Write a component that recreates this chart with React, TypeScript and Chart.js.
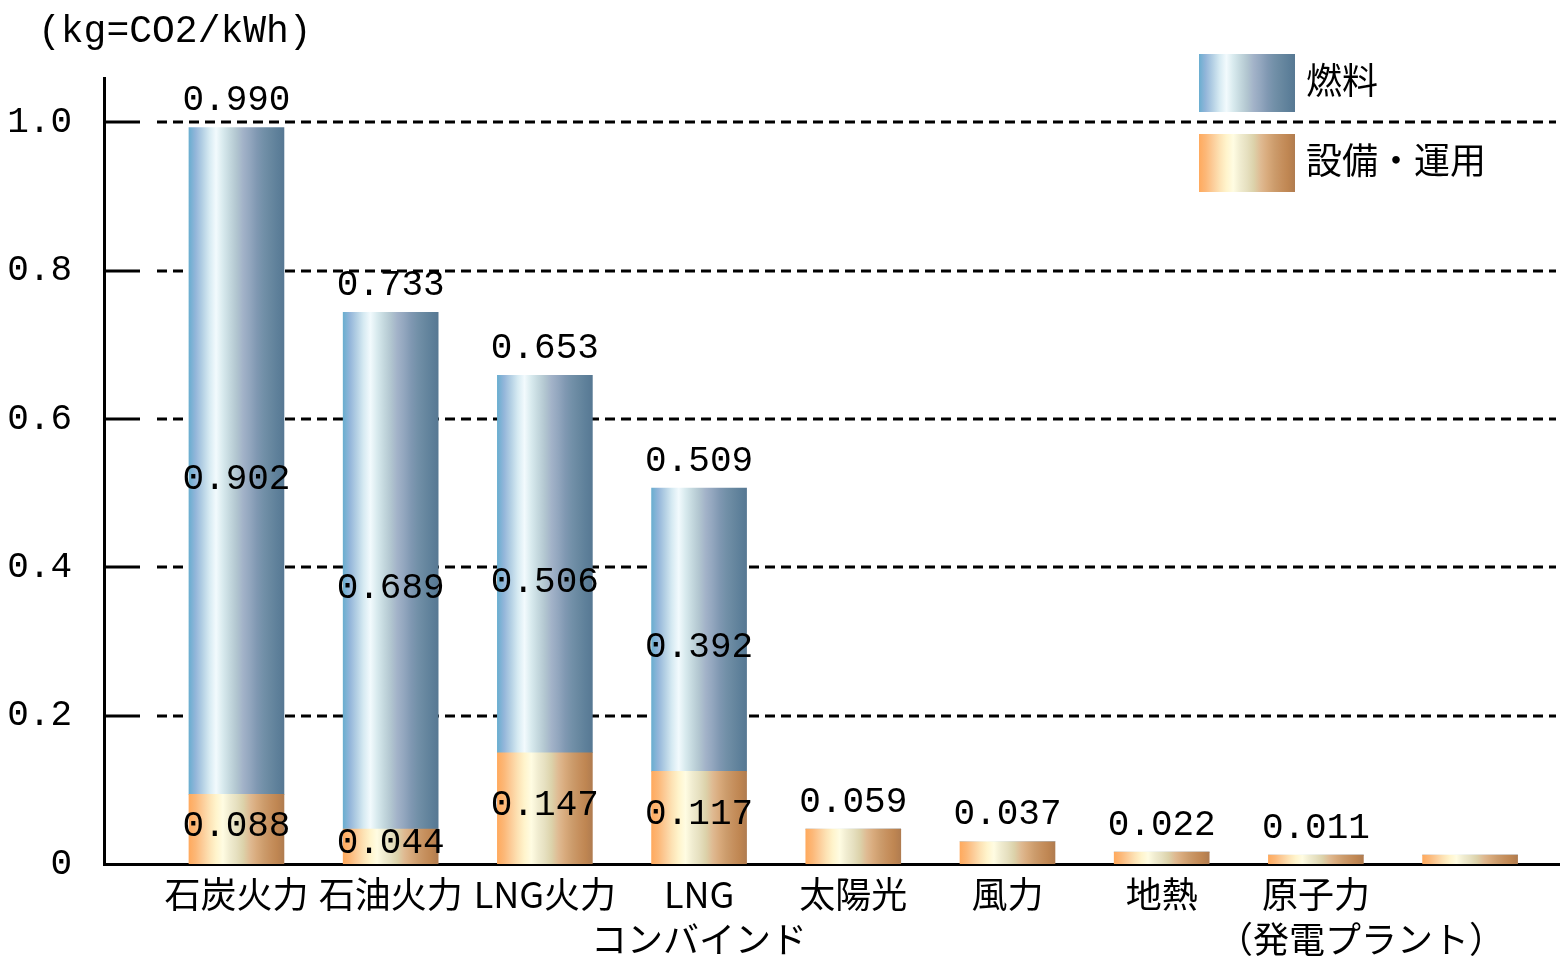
import React, { useEffect, useRef } from 'react';
import { Chart, registerables } from 'chart.js';

Chart.register(...registerables);

// categories (x axis), multi-line labels
const categories: string[][] = [
  ['石炭火力'],
  ['石油火力'],
  ['LNG火力'],
  ['LNG', 'コンバインド'],
  ['太陽光'],
  ['風力'],
  ['地熱'],
  ['原子力', '　　　（発電プラント）'],
  [''],
];

// bar heights as drawn (kg-CO2/kWh)
const equipment = [0.094, 0.047, 0.150, 0.125, 0.047, 0.030, 0.016, 0.012, 0.012];
const fuel = [0.899, 0.697, 0.509, 0.382, 0, 0, 0, 0, 0];

// printed numbers
const totalLabels = ['0.990', '0.733', '0.653', '0.509', '0.059', '0.037', '0.022', '0.011', ''];
const fuelLabels = ['0.902', '0.689', '0.506', '0.392', '', '', '', '', ''];
const equipLabels = ['0.088', '0.044', '0.147', '0.117', '', '', '', '', ''];

const yTicks = [0, 0.2, 0.4, 0.6, 0.8, 1.0];

const blueStops = [
  '#6aaed0', '#94b6da', '#b4d0e4', '#d6eaf2', '#f2fafd', '#d8eaee', '#c4d8de', '#b2c6d0',
  '#a2b2c8', '#92a6be', '#8098b2', '#7290a8', '#6888a0', '#5e809a', '#577893',
];
const orangeStops = [
  '#ffaa5e', '#fcb878', '#fccc98', '#fde2b4', '#fff4cc', '#fffce2', '#f0ecd0', '#e6e0c0',
  '#dcd2aa', '#dfba92', '#d8aa7c', '#cc9c6c', '#c6905e', '#bf8652', '#b07c50',
];

const BAR_W = 95;
const NUM_FONT = '36px "Liberation Mono", monospace';
const JP_FONT = '36px "Noto Sans CJK JP", sans-serif';

const makeGradient = (ctx: CanvasRenderingContext2D, left: number, width: number, stops: string[]) => {
  const g = ctx.createLinearGradient(left, 0, left + width, 0);
  stops.forEach((c, k) => g.addColorStop(k / (stops.length - 1), c));
  return g;
};

const barFill = (stops: string[]) => (c: any) => {
  const xs = c.chart.scales?.x;
  if (!xs || c.dataIndex === undefined) return stops[0];
  const cx = xs.getPixelForValue(c.dataIndex);
  if (!Number.isFinite(cx)) return stops[0];
  return makeGradient(c.chart.ctx, cx - BAR_W / 2, BAR_W, stops);
};

// dashed grid lines with a short solid stub next to the y axis
const gridPlugin = {
  id: 'dashGrid',
  beforeDatasetsDraw(chart: any) {
    const { ctx, scales, chartArea } = chart;
    ctx.save();
    ctx.strokeStyle = '#000';
    ctx.lineWidth = 3;
    yTicks.filter((v) => v > 0).forEach((v) => {
      const y = Math.round(scales.y.getPixelForValue(v));
      ctx.setLineDash([]);
      ctx.beginPath();
      ctx.moveTo(chartArea.left, y);
      ctx.lineTo(chartArea.left + 36, y);
      ctx.stroke();
      ctx.setLineDash([10, 6]);
      ctx.beginPath();
      ctx.moveTo(chartArea.left + 53, y);
      ctx.lineTo(chartArea.right - 4, y);
      ctx.stroke();
    });
    ctx.restore();
  },
};

const valuePlugin = {
  id: 'values',
  afterDatasetsDraw(chart: any) {
    const { ctx, scales } = chart;
    const base = scales.y.getPixelForValue(0);
    ctx.save();
    ctx.fillStyle = '#000';
    ctx.font = NUM_FONT;
    ctx.textAlign = 'center';
    ctx.textBaseline = 'middle';
    categories.forEach((_, i) => {
      const x = scales.x.getPixelForValue(i);
      const eqTop = scales.y.getPixelForValue(equipment[i]);
      const top = scales.y.getPixelForValue(equipment[i] + fuel[i]);
      if (equipLabels[i]) ctx.fillText(equipLabels[i], x, (base + eqTop) / 2 - 3);
      if (fuelLabels[i]) ctx.fillText(fuelLabels[i], x, (eqTop + top) / 2 + 18);
      if (totalLabels[i]) ctx.fillText(totalLabels[i], x, top - 27);
    });
    ctx.restore();
  },
};

const legendPlugin = {
  id: 'boxLegend',
  afterDraw(chart: any) {
    const { ctx } = chart;
    ctx.save();
    const items = [
      { text: chart.data.datasets[1].label, stops: blueStops, y: 54 },
      { text: chart.data.datasets[0].label, stops: orangeStops, y: 134 },
    ];
    items.forEach((it) => {
      ctx.fillStyle = makeGradient(ctx, 1199, 96, it.stops);
      ctx.fillRect(1199, it.y, 96, 58);
      ctx.fillStyle = '#000';
      ctx.font = JP_FONT;
      ctx.textAlign = 'left';
      ctx.textBaseline = 'middle';
      ctx.fillText(it.text, 1306, it.y + 26);
    });
    // unit
    ctx.font = '38px "Liberation Mono", monospace';
    ctx.textBaseline = 'middle';
    ctx.fillText('(kg=CO2/kWh)', 38, 32);
    ctx.restore();
  },
};

const App: React.FC = () => {
  const canvasRef = useRef<HTMLCanvasElement>(null);
  const chartRef = useRef<Chart | null>(null);

  useEffect(() => {
    document.body.style.margin = '0';
    if (!canvasRef.current) return;
    if (chartRef.current) chartRef.current.destroy();

    chartRef.current = new Chart(canvasRef.current, {
      type: 'bar',
      data: {
        datasets: [
          {
            label: '設備・運用',
            data: equipment.map((v, i) => ({ x: i, y: v })),
            backgroundColor: barFill(orangeStops),
            borderWidth: 0,
            barThickness: BAR_W,
          },
          {
            label: '燃料',
            data: fuel.map((v, i) => ({ x: i, y: v })),
            backgroundColor: barFill(blueStops),
            borderWidth: 0,
            barThickness: BAR_W,
          },
        ],
      } as any,
      options: {
        responsive: false,
        animation: false,
        layout: { padding: { top: 78, left: 0, right: 0, bottom: 0 } },
        plugins: {
          legend: { display: false },
          tooltip: { enabled: false },
        },
        scales: {
          x: {
            type: 'linear',
            stacked: true,
            offset: false,
            min: -0.859,
            max: 8.583,
            grid: { display: false, drawTicks: false },
            border: { display: true, color: '#000', width: 3 },
            ticks: {
              color: '#000',
              font: { family: '"Noto Sans CJK JP", sans-serif', size: 36, lineHeight: 1.25 },
              padding: 8,
              autoSkip: false,
              maxRotation: 0,
              minRotation: 0,
              callback: (v: any) => categories[v] ?? '',
            },
            afterBuildTicks: (s: any) => {
              s.ticks = categories.map((_, i) => ({ value: i }));
            },
            afterFit: (s: any) => {
              s.height = 95;
            },
          },
          y: {
            stacked: true,
            min: 0,
            max: 1.06,
            grid: { display: false, drawTicks: false },
            border: { display: true, color: '#000', width: 3 },
            ticks: {
              color: '#000',
              font: { family: '"Liberation Mono", monospace', size: 36 },
              padding: 32,
              callback: (v: any) => (v === 0 ? '0' : Number(v).toFixed(1)),
            },
            afterBuildTicks: (s: any) => {
              s.ticks = yTicks.map((v) => ({ value: v }));
            },
            afterFit: (s: any) => {
              s.width = 104;
            },
          },
        },
      } as any,
      plugins: [gridPlugin, valuePlugin, legendPlugin],
    });

    return () => {
      if (chartRef.current) {
        chartRef.current.destroy();
        chartRef.current = null;
      }
    };
  }, []);

  return (
    <div style={{ width: 1560, height: 959, background: '#fff' }}>
      <canvas ref={canvasRef} width={1560} height={959} style={{ display: 'block' }} />
    </div>
  );
};

export default App;
